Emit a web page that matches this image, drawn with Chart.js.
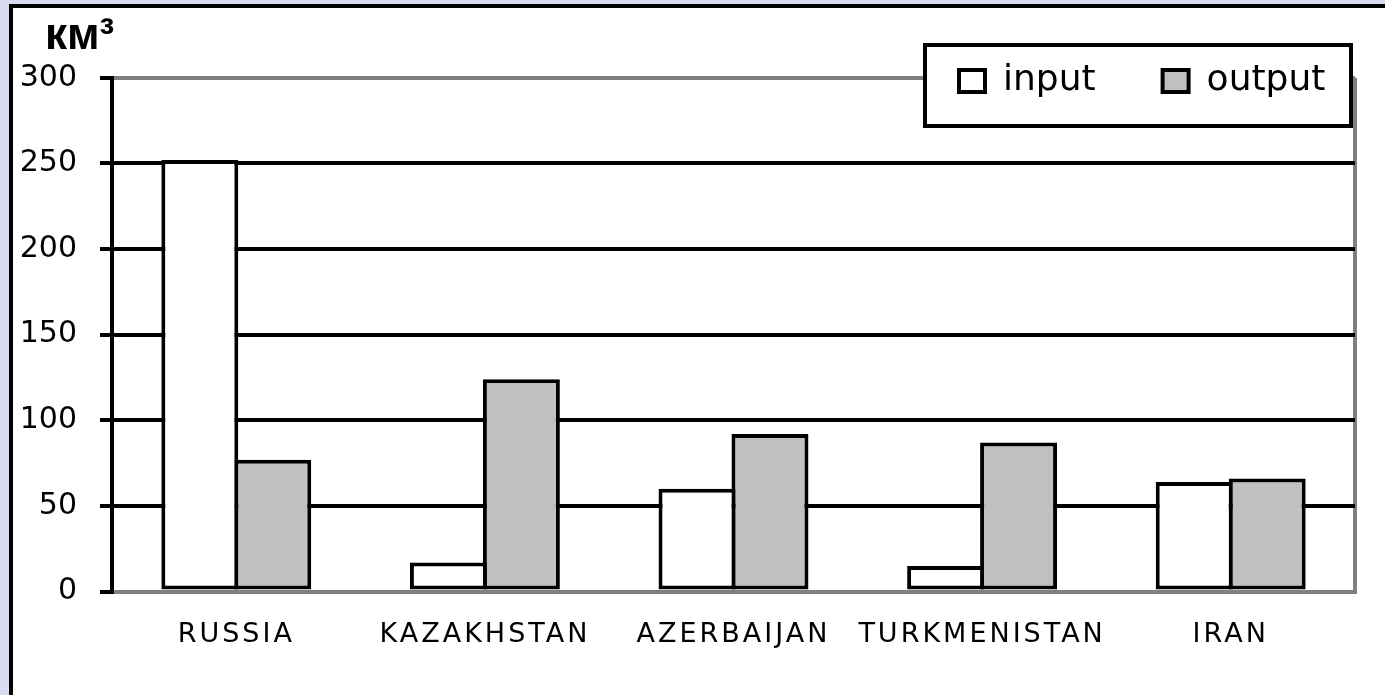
<!DOCTYPE html>
<html>
<head>
<meta charset="utf-8">
<script src="https://cdn.jsdelivr.net/npm/chart.js@4"></script>
<style>
  html, body { margin: 0; padding: 0; }
  body { width: 1385px; height: 695px; overflow: hidden; background: #d8dbf0; position: relative; }
  #panel { position: absolute; left: 9px; top: 4px; width: 1400px; height: 720px; background: #fff;
           border-left: 4px solid #000; border-top: 4px solid #000; }
  #chart { position: absolute; left: 0; top: 0; }
</style>
</head>
<body>
<div id="panel"></div>
<canvas id="chart" width="1385" height="695"></canvas>
<script>
const countries = ['RUSSIA', 'KAZAKHSTAN', 'AZERBAIJAN', 'TURKMENISTAN', 'IRAN'];
const inputValues = [252, 17, 60, 15, 64];
const outputValues = [77, 124, 92, 87, 66];
const yTicks = [0, 50, 100, 150, 200, 250, 300];
const unitLabel = 'км³';
const seriesNames = ['input', 'output'];

const GRAY = '#808080';

// legend sits in a framed box that overlaps the top of the plot,
// unit label sits above the axis labels
const placeBoxes = {
	id: 'placeBoxes',
	afterLayout(chart) {
		const lg = chart.legend;
		const pad = lg.options.labels.padding;
		lg.left = 959 - pad;
		lg.right = lg.left + pad + lg.lineWidths[0] + 50;
		lg.top = 63 - pad;
		lg.bottom = 63 + 60;
		lg.draw = function () {};

		const t = chart.titleBlock;
		t.right += 45 - t.left;
		t.left = 45;
	},
	afterDatasetsDraw(chart) {
		const {ctx, legend} = chart;
		ctx.save();
		ctx.fillStyle = '#fff';
		ctx.fillRect(925, 45, 426, 81);
		ctx.strokeStyle = '#000';
		ctx.lineWidth = 4;
		ctx.strokeRect(925, 45, 426, 81);
		ctx.restore();
		Object.getPrototypeOf(legend).draw.call(legend);
	}
};

// wide letter spacing on the category labels
const spacedLabels = {
	id: 'spacedLabels',
	beforeDraw(chart) {
		const x = chart.scales.x;
		if (x._spaced) return;
		const drawLabels = x.drawLabels;
		x.drawLabels = function (area) {
			const ctx = this.ctx;
			ctx.save();
			ctx.letterSpacing = '3px';
			drawLabels.call(this, area);
			ctx.restore();
		};
		x._spaced = true;
	}
};

new Chart(document.getElementById('chart'), {
	type: 'bar',
	data: {
		labels: countries,
		datasets: [{
			label: seriesNames[0],
			data: inputValues,
			backgroundColor: '#ffffff',
			borderColor: '#000',
			borderWidth: 4,
			borderSkipped: false
		}, {
			label: seriesNames[1],
			data: outputValues,
			backgroundColor: '#c0c0c0',
			borderColor: '#000',
			borderWidth: 4,
			borderSkipped: false
		}]
	},
	options: {
		responsive: false,
		animation: false,
		categoryPercentage: 0.587,
		barPercentage: 1.055,
		layout: {padding: {left: 14, right: 30, top: 0, bottom: 17}},
		plugins: {
			tooltip: {enabled: false},
			title: {
				display: true,
				text: unitLabel,
				align: 'start',
				color: '#000',
				font: {family: 'Liberation Sans', size: 44, weight: 'bold'},
				padding: {top: 10, bottom: 14}
			},
			legend: {
				align: 'start',
				maxHeight: 1,
				labels: {
					color: '#000',
					font: {family: 'DejaVu Sans', size: 36},
					boxWidth: 26,
					boxHeight: 22,
					padding: 67
				}
			}
		},
		scales: {
			x: {
				grid: {
					color: (c) => c.tick ? 'rgba(0,0,0,0)' : GRAY,
					lineWidth: 4,
					drawTicks: false
				},
				border: {color: GRAY, width: 4},
				ticks: {
					color: '#000',
					font: {family: 'DejaVu Sans', size: 27},
					padding: 27,
					maxRotation: 0
				}
			},
			y: {
				min: yTicks[0],
				max: yTicks[yTicks.length - 1],
				afterFit: (scale) => { scale.width = 98; },
				grid: {
					color: (c) => (c.tick && (c.tick.value === yTicks[0] || c.tick.value === yTicks[yTicks.length - 1])) ? GRAY : '#000',
					lineWidth: 4,
					tickLength: 12,
					tickColor: '#000',
					tickWidth: 4
				},
				border: {color: '#000', width: 4},
				ticks: {
					stepSize: yTicks[1] - yTicks[0],
					color: '#000',
					padding: 23,
					font: {family: 'DejaVu Sans', size: 30}
				}
			}
		}
	},
	plugins: [placeBoxes, spacedLabels]
});
</script>
</body>
</html>
